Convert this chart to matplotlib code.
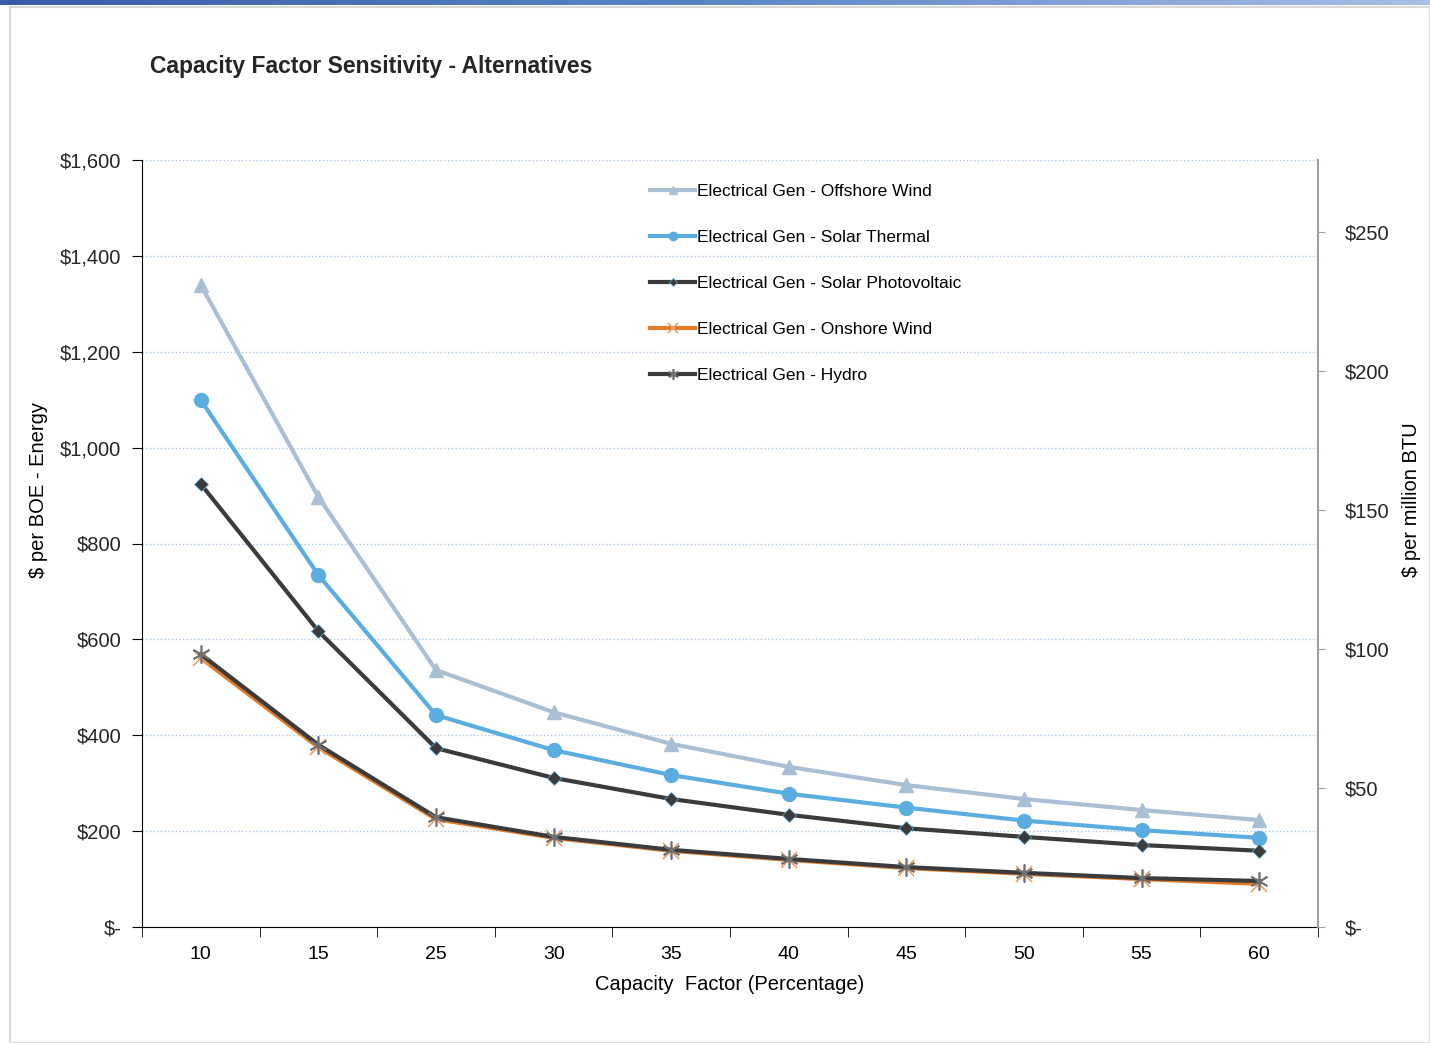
"""
Capacity factor sensitivity chart for the alternative generation options.
"""

import matplotlib; matplotlib.use('Agg')

import matplotlib.pyplot as plt
from matplotlib.colors import LinearSegmentedColormap
from matplotlib.patches import Rectangle
from matplotlib.ticker import FuncFormatter
import numpy as np

plt.rcParams['font.family'] = ['Liberation Sans', 'DejaVu Sans']

# Data
capacity_factors = ['10', '15', '25', '30', '35', '40', '45', '50', '55', '60']
offshore_wind = [1339, 897, 536, 448, 382, 334, 296, 267, 244, 223]
solar_thermal = [1099, 734, 442, 369, 317, 278, 249, 222, 202, 186]
solar_pv = [924, 617, 373, 311, 267, 234, 206, 188, 171, 159]
onshore_wind = [561, 375, 225, 186, 159, 140, 123, 111, 100, 90]
hydro = [569, 380, 229, 188, 161, 142, 125, 113, 102, 96]

BOE_MMBTU = 5.8
LEFT_MAX = 1600


def _money(v, pos):
    return "$-" if v == 0 else "${:,.0f}".format(v)


fig = plt.figure(figsize=(14.3, 10.43), dpi=100)

# Frame and top gradient strip
fig.patches.append(Rectangle((10 / 1430, 0), 1420 / 1430, 1 - 7 / 1043, transform=fig.transFigure,
                             fill=False, edgecolor='#d9d9d9', linewidth=1.5))
strip = fig.add_axes([0, 1 - 5 / 1043, 1, 5 / 1043])
strip.imshow(np.linspace(0, 1, 256)[None, :], aspect='auto',
             cmap=LinearSegmentedColormap.from_list('strip', ['#3a5ba8', '#5a86c4', '#a9bde6']))
strip.axis('off')

ax = fig.add_axes([142 / 1430, 116 / 1043, 1176 / 1430, 767 / 1043])
x = np.arange(len(capacity_factors))

ax.plot(x, offshore_wind, color='#a9bfd4', lw=3, marker='^', ms=10, label='Electrical Gen - Offshore Wind', zorder=3)
ax.plot(x, solar_thermal, color='#5bade0', lw=3, marker='o', ms=10, label='Electrical Gen - Solar Thermal', zorder=3)
ax.plot(x, solar_pv, color='#3b3b3b', lw=3, marker='D', ms=7, mec='#5bade0', mew=0.5,
        label='Electrical Gen - Solar Photovoltaic', zorder=3)
ax.plot(x, onshore_wind, color='#e07b2a', lw=3, marker='x', ms=11, mec='#e8a070', mew=1.2,
        label='Electrical Gen - Onshore Wind', zorder=3)
ax.plot(x, hydro, color='#3b3b3b', lw=3, marker=(6, 2, 0), ms=13, mec='#707070', mew=1.2,
        label='Electrical Gen - Hydro', zorder=4)

ax.set_xlim(-0.5, len(capacity_factors) - 0.5)
ax.set_ylim(0, LEFT_MAX)
ax.set_yticks(np.arange(0, LEFT_MAX + 1, 200))
ax.yaxis.set_major_formatter(FuncFormatter(_money))
ax.grid(True, axis='y', color='#a9c8ee', linestyle=':', linewidth=1)
ax.set_axisbelow(True)

ax.set_xticks(x)
ax.set_xticklabels(capacity_factors)
ax.set_xticks(np.arange(-0.5, len(capacity_factors)), minor=True)
ax.tick_params(axis='x', which='major', length=0, labelsize=14, pad=14)
ax.tick_params(axis='x', which='minor', length=7, direction='out')
ax.tick_params(axis='y', length=7, labelsize=14.5, pad=8, labelcolor='#262626')

for side in ('top', 'right'):
    ax.spines[side].set_visible(False)

ax.set_xlabel("Capacity  Factor (Percentage)", fontsize=14.5, labelpad=8)
ax.set_ylabel("$ per BOE - Energy", fontsize=14.5)
ax.yaxis.set_label_coords(-0.08, 0.57)

# Secondary axis
ax2 = ax.twinx()
ax2.set_ylim(0, LEFT_MAX / BOE_MMBTU)
ax2.set_yticks(np.arange(0, 251, 50))
ax2.yaxis.set_major_formatter(FuncFormatter(_money))
ax2.tick_params(axis='y', length=5, color='#a0a0a0', labelsize=14.5, pad=14, labelcolor='#262626')
ax2.spines['right'].set_color('#a0a0a0')
ax2.spines['right'].set_linewidth(1.5)
for side in ('top', 'left', 'bottom'):
    ax2.spines[side].set_visible(False)
ax2.set_ylabel("$ per million BTU", fontsize=14.5)
ax2.yaxis.set_label_coords(1.0714, 0.557)

ax.legend(loc='upper left', bbox_to_anchor=(650 / 1430, 1 - 184 / 1043), bbox_transform=fig.transFigure,
          frameon=False, fontsize=12.5, handlelength=2.6, handletextpad=0.1, labelspacing=1.78,
          borderpad=0, borderaxespad=0, markerscale=0.6)

fig.text(150 / 1430, 1 - 66 / 1043, "Capacity Factor Sensitivity - Alternatives",
         fontsize=16.5, fontweight='bold', color='#262626', va='center')

fig.savefig("out.png", dpi=100)
